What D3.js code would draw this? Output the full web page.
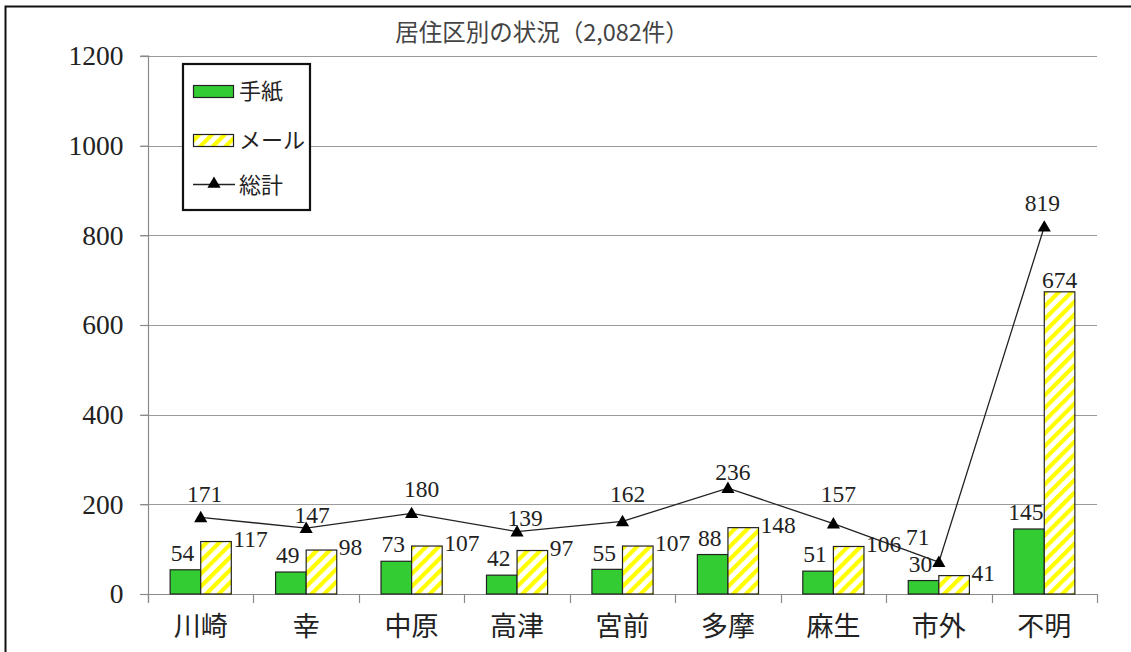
<!DOCTYPE html>
<html>
<head>
<meta charset="utf-8">
<script src="https://cdn.jsdelivr.net/npm/d3@7"></script>
<style>
  html, body { margin: 0; padding: 0; background: #fff; overflow: hidden; }
  svg { display: block; }
  text { font-family: "Liberation Serif", "Noto Sans CJK JP", serif; }
</style>
</head>
<body>
<svg id="chart" width="1131" height="652"></svg>
<script>
// ---- data ----
const categories = ["川崎", "幸", "中原", "高津", "宮前", "多摩", "麻生", "市外", "不明"];
const letters = [54, 49, 73, 42, 55, 88, 51, 30, 145];
const mails = [117, 98, 107, 97, 107, 148, 106, 41, 674];
const totals = [171, 147, 180, 139, 162, 236, 157, 71, 819];
const yTicks = [0, 200, 400, 600, 800, 1000, 1200];
const seriesNames = ["手紙", "メール", "総計"];
const titleText = "居住区別の状況（2,082件）";

// ---- layout (label nudges) ----
const totalLabelNudge = [[4,-24],[6,-13],[10,-25],[8,-14],[5,-28],[5,-16],[5,-30],[-21,-25],[-2,-24]];
const mailLabelSide = ["right","right","right","right","right","right","right","right","top"];

const svg = d3.select("#chart");
const m = { left: 148, right: 1097, top: 56, bottom: 594 };

// outer frame
svg.append("rect").attr("x", 5.5).attr("y", 6.5).attr("width", 1200).attr("height", 700)
  .attr("fill", "#fff").attr("stroke", "#111").attr("stroke-width", 2);

const defs = svg.append("defs");
const pat = defs.append("pattern").attr("id", "hatch").attr("patternUnits", "userSpaceOnUse")
  .attr("width", 9).attr("height", 9).attr("patternTransform", "rotate(45)");
pat.append("rect").attr("width", 9).attr("height", 9).attr("fill", "#fff");
pat.append("rect").attr("x", 0).attr("width", 4.2).attr("height", 9).attr("fill", "#ffff00");

const x0 = d3.scaleBand().domain(categories).range([m.left, m.right]).padding(0);
const x1 = d3.scaleBand().domain(["letter", "mail"]).range([x0.bandwidth() * 0.21, x0.bandwidth() * 0.79]).padding(0);
const y = d3.scaleLinear().domain([0, 1200]).range([m.bottom, m.top]);

// gridlines
svg.append("g").selectAll("line").data(yTicks.filter(d => d > 0)).join("line")
  .attr("x1", m.left - 8).attr("x2", m.right)
  .attr("y1", d => Math.round(y(d)) + 0.5).attr("y2", d => Math.round(y(d)) + 0.5)
  .attr("stroke", "#9a9a9a").attr("stroke-width", 1.2);

// y axis
const yAxis = d3.axisLeft(y).tickValues(yTicks).tickSize(8).tickPadding(17).tickFormat(d3.format("d"));
const gy = svg.append("g").attr("transform", `translate(${m.left + 0.5},0)`).call(yAxis);
gy.select(".domain").attr("stroke", "#8a8a8a").attr("stroke-width", 1.2).attr("d", `M-8,${m.top}H0V${m.bottom + 9}`);
gy.selectAll(".tick line").attr("stroke", "#8a8a8a").attr("stroke-width", 1.2);
gy.selectAll(".tick text").attr("font-size", 27.5).attr("fill", "#222")
  .style("font-family", '"Liberation Serif", serif');

// x axis
const xAxis = d3.axisBottom(x0).tickSize(0).tickPadding(20);
const gx = svg.append("g").attr("transform", `translate(0,${m.bottom + 0.5})`).call(xAxis);
gx.select(".domain").attr("stroke", "#8a8a8a").attr("stroke-width", 1.2).attr("d", `M${m.left - 8},0H${m.right}`);
gx.selectAll(".tick text").attr("font-size", 27).attr("fill", "#222").attr("dy", "0.8em")
  .style("font-family", '"Noto Sans CJK JP", sans-serif');
// category boundary ticks
const bounds = categories.map(c => x0(c)).concat([m.right]);
svg.append("g").selectAll("line").data(bounds).join("line")
  .attr("x1", d => Math.round(d) + 0.5).attr("x2", d => Math.round(d) + 0.5)
  .attr("y1", m.bottom).attr("y2", m.bottom + 9)
  .attr("stroke", "#8a8a8a").attr("stroke-width", 1.2);

// bars
const groups = svg.append("g").selectAll("g").data(categories).join("g")
  .attr("transform", d => `translate(${x0(d)},0)`);
groups.append("rect")
  .attr("x", x1("letter")).attr("width", x1.bandwidth())
  .attr("y", (d, i) => y(letters[i])).attr("height", (d, i) => y(0) - y(letters[i]))
  .attr("fill", "#33cc33").attr("stroke", "#222").attr("stroke-width", 1.2);
groups.append("rect")
  .attr("x", x1("mail")).attr("width", x1.bandwidth())
  .attr("y", (d, i) => y(mails[i])).attr("height", (d, i) => y(0) - y(mails[i]))
  .attr("fill", "url(#hatch)").attr("stroke", "#222").attr("stroke-width", 1.2);

// bar labels
groups.append("text")
  .attr("x", x1("letter") + x1.bandwidth() / 2 - 3)
  .attr("y", (d, i) => y(letters[i]) - 17).attr("dy", "0.35em")
  .attr("text-anchor", "middle").attr("font-size", 23.5).attr("fill", "#222")
  .text((d, i) => letters[i]);
groups.append("text")
  .attr("x", (d, i) => mailLabelSide[i] === "top" ? x1("mail") + x1.bandwidth() / 2 : x1("mail") + x1.bandwidth() + 2)
  .attr("y", (d, i) => mailLabelSide[i] === "top" ? y(mails[i]) - 12 : y(mails[i]) - 3).attr("dy", "0.35em")
  .attr("text-anchor", (d, i) => mailLabelSide[i] === "top" ? "middle" : "start")
  .attr("font-size", 23.5).attr("fill", "#222")
  .text((d, i) => mails[i]);

// total line
const cx = c => x0(c) + x0.bandwidth() / 2;
const line = d3.line().x((d, i) => cx(categories[i])).y(d => y(d));
svg.append("path").datum(totals).attr("d", line)
  .attr("fill", "none").attr("stroke", "#222").attr("stroke-width", 1.3);
const tri = d3.symbol().type(d3.symbolTriangle).size(75);
svg.append("g").selectAll("path").data(totals).join("path")
  .attr("d", tri)
  .attr("transform", (d, i) => `translate(${cx(categories[i])},${y(d) + 1})`)
  .attr("fill", "#000");
svg.append("g").selectAll("text").data(totals).join("text")
  .attr("x", (d, i) => cx(categories[i]) + totalLabelNudge[i][0])
  .attr("y", (d, i) => y(d) + totalLabelNudge[i][1]).attr("dy", "0.35em")
  .attr("text-anchor", "middle").attr("font-size", 23.5).attr("fill", "#222")
  .text(d => d);

// title
svg.append("text").attr("x", 542).attr("y", 33).attr("dy", "0.35em")
  .attr("text-anchor", "middle").attr("font-size", 23.5).attr("fill", "#444")
  .style("font-family", '"Noto Sans CJK JP", sans-serif')
  .text(titleText);

// legend
const lg = svg.append("g");
lg.append("rect").attr("x", 183).attr("y", 64).attr("width", 127).attr("height", 146)
  .attr("fill", "#fff").attr("stroke", "#111").attr("stroke-width", 2.2);
lg.append("rect").attr("x", 193.5).attr("y", 85.5).attr("width", 40).attr("height", 12)
  .attr("fill", "#33cc33").attr("stroke", "#222").attr("stroke-width", 1.2);
lg.append("rect").attr("x", 193.5).attr("y", 134.5).attr("width", 40).attr("height", 12)
  .attr("fill", "url(#hatch)").attr("stroke", "#222").attr("stroke-width", 1.2);
lg.append("line").attr("x1", 193).attr("x2", 235).attr("y1", 184.5).attr("y2", 184.5)
  .attr("stroke", "#222").attr("stroke-width", 1.3);
lg.append("path").attr("d", tri).attr("transform", "translate(214,184)").attr("fill", "#000");
const legendY = [91, 140, 185];
lg.selectAll("text.lt").data(seriesNames).join("text").attr("class", "lt")
  .attr("x", 239).attr("y", (d, i) => legendY[i]).attr("dy", "0.35em")
  .attr("font-size", 22).attr("fill", "#222")
  .style("font-family", '"Noto Sans CJK JP", sans-serif')
  .text(d => d);
</script>
</body>
</html>
